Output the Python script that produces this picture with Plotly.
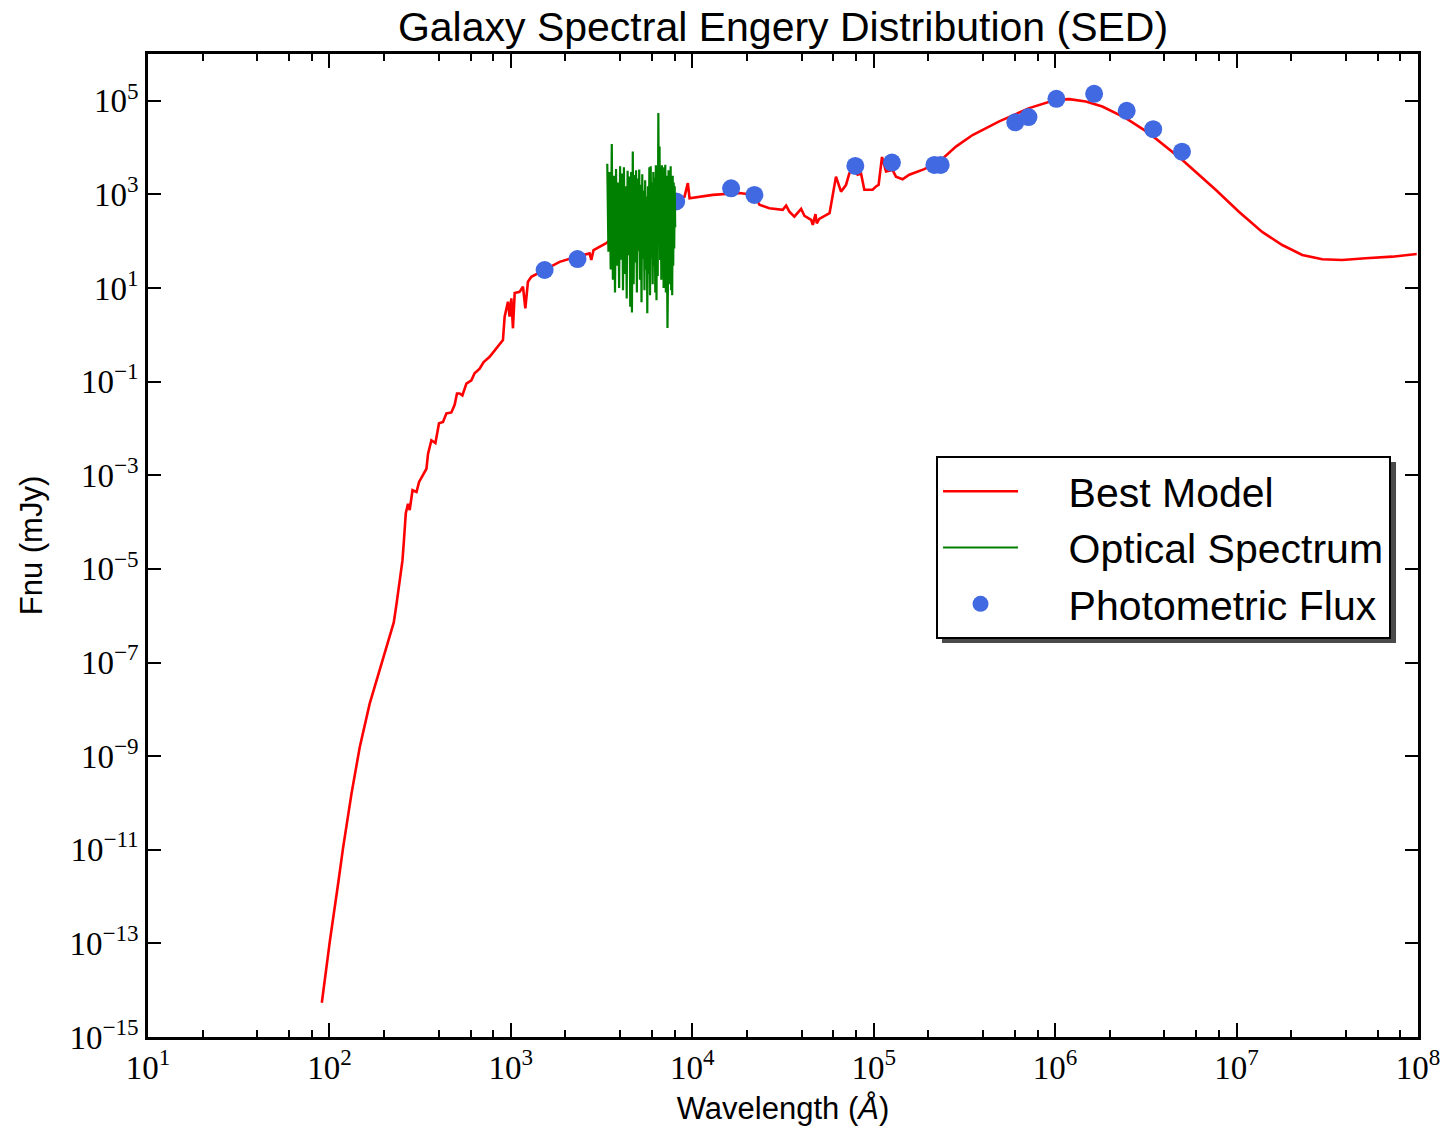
import plotly.graph_objects as go

# ---------------- data ----------------
model_wave = [90.8, 100.5, 111.7, 118.9, 132.4, 146.9, 166.7, 196.8, 226.3, 234.4,
              244.3, 252.6, 257.0, 263.6, 271.0, 277.0, 287.0, 302.0, 312.0, 342.6,
              349.6, 364.8, 383.8, 401.8, 422.7, 441.4, 470.0, 490.0, 504.7, 522.0,
              540.5, 568.8, 606.0, 631.0, 673.0, 708.0, 764.0, 814.0, 904.5, 924.0,
              964.0, 984.0, 1006.0, 1027.0, 1050.0, 1117.0, 1166.0, 1202.0, 1242.0, 1297.0,
              1535.0, 1857.0, 2296.0, 2716.0, 2776.0, 2856.0, 3357.0, 4000.0, 5000.0, 6000.0,
              7000.0, 8150.0, 9060.0, 9450.0, 9660.0, 12970.0, 18200.0, 22030.0, 23450.0, 26600.0,
              31500.0, 32900.0, 34300.0, 36550.0, 39800.0, 41550.0, 45200.0, 46150.0, 47750.0, 48550.0,
              50100.0, 57100.0, 61950.0, 66050.0, 70300.0, 73400.0, 76550.0, 81500.0, 85100.0, 88750.0,
              98600.0, 102900.0, 106400.0, 111100.0, 116900.0, 127100.0, 132600.0, 144200.0, 157000.0, 190000.0,
              229700.0, 283900.0, 350700.0, 492000.0, 719000.0, 1.009e6, 1.195e6, 1.476e6, 1.82e6, 2.45e6,
              3.29e6, 5.01e6, 7.67e6, 1.03e7, 1.384e7, 1.785e7, 2.30e7, 2.965e7, 3.82e7, 5.14e7,
              7.21e7, 9.84e7]
model_flux = [5.4e-15, 1.1e-13, 1.9e-12, 1.1e-11, 1.6e-10, 1.55e-9, 1.32e-8, 1.1e-7, 7.2e-7, 1.8e-6,
              5.6e-6, 1.5e-5, 3.7e-5, 1.55e-4, 2.45e-4, 1.8e-4, 4.8e-4, 4.4e-4, 7.2e-4, 1.38e-3,
              2.9e-3, 5.6e-3, 4.9e-3, 1.29e-2, 1.38e-2, 2.1e-2, 2.2e-2, 3.2e-2, 5.6e-2, 5.6e-2,
              5.1e-2, 9.1e-2, 0.107, 0.151, 0.19, 0.263, 0.339, 0.468, 0.776, 2.45,
              5.1, 2.45, 6.0, 1.38, 7.8, 8.3, 10.7, 3.7, 13.6, 17.4,
              24.3, 36.3, 46.8, 55.0, 40.0, 65.0, 91.0, 150.0, 300.0, 450.0,
              600.0, 759.0, 890.0, 1740.0, 830.0, 977.0, 1070.0, 977.0, 600.0, 507.0,
              468.0, 575.0, 427.0, 335.0, 490.0, 347.0, 285.0, 224.0, 380.0, 240.0,
              300.0, 398.0, 2400.0, 1150.0, 1580.0, 2820.0, 3630.0, 2630.0, 2820.0, 1260.0,
              1260.0, 1480.0, 1590.0, 6300.0, 3090.0, 3310.0, 2400.0, 2110.0, 2630.0, 3470.0,
              5010.0, 10500.0, 18600.0, 36300.0, 69800.0, 104700.0, 108700.0, 96600.0, 75500.0, 42700.0,
              20400.0, 5500.0, 1260.0, 427.0, 158.0, 83.0, 51.0, 41.1, 39.8, 43.2,
              46.8, 53.3]

spec_wave = [3400, 3450, 3500, 3550, 3600, 3650, 3700, 3750, 3800, 3850,
             3900, 3950, 4000, 4050, 4100, 4150, 4200, 4250, 4300, 4350,
             4400, 4450, 4500, 4550, 4600, 4650, 4700, 4750, 4800, 4850,
             4900, 4950, 5000, 5050, 5100, 5150, 5200, 5250, 5300, 5350,
             5400, 5450, 5500, 5550, 5600, 5650, 5700, 5750, 5800, 5850,
             5900, 5950, 6000, 6050, 6100, 6150, 6200, 6250, 6300, 6350,
             6400, 6450, 6500, 6550, 6600, 6650, 6700, 6750, 6800, 6850,
             6900, 6950, 7000, 7050, 7100, 7150, 7200, 7250, 7300, 7350,
             7400, 7450, 7500, 7550, 7600, 7650, 7700, 7750, 7800, 7850,
             7900, 7950, 8000, 8050]
spec_flux = [4500, 60, 3000, 25, 12000, 15, 2500, 8, 3500, 30,
             1800, 10, 4000, 40, 2800, 9, 3800, 20, 1500, 6,
             3200, 50, 2400, 4, 3000, 3.0, 8300, 12, 2600, 35,
             3300, 8, 2200, 60, 3400, 15, 1600, 5, 2700, 40,
             1200, 9, 2000, 25, 900, 2.9, 1500, 20, 3800, 7,
             4000, 45, 1800, 12, 3000, 30, 2300, 8, 4200, 5.5,
             2800, 18, 55000, 200, 10500, 40, 3000, 15, 4200, 60,
             2000, 10, 3800, 25, 4300, 8, 2500, 3, 1.4, 20,
             3300, 12, 2000, 45, 4000, 9, 1200, 7, 2500, 30,
             1800, 70, 1500, 200]

phot_wave = [1535, 2330, 4900, 8150, 16370, 22000, 79200, 126000, 216000, 234000,
             603000, 713000, 1.016e6, 1.64e6, 2.48e6, 3.47e6, 5.0e6]
phot_flux = [24.3, 41.7, 400, 708, 1350, 977, 4070, 4790, 4270, 4270,
             34800, 44900, 1.1e5, 1.41e5, 6.1e4, 2.48e4, 8.2e3]

x_exps = [1, 2, 3, 4, 5, 6, 7, 8]
y_exps = [-15, -13, -11, -9, -7, -5, -3, -1, 1, 3, 5]
minor_mult = [2, 4, 6, 8]

# ---------------- figure ----------------
def sup(e):
    s = str(e).replace("-", "\u2212")
    return "10<sup>" + s + "</sup>"

NB = "\u00a0" * 4
SANS = "Liberation Sans, Arial, sans-serif"
SERIF = "Liberation Serif, serif"

fig = go.Figure()
fig.add_trace(go.Scatter(x=model_wave, y=model_flux, mode="lines", name=NB + "Best Model",
                         line=dict(color="#ff0000", width=2.6), legendrank=1, legendgroup="a"))
fig.add_trace(go.Scatter(x=phot_wave, y=phot_flux, mode="markers", name=NB + "Photometric Flux",
                         marker=dict(color="#4169e1", size=18), legendrank=3, legendgroup="c"))
fig.add_trace(go.Scatter(x=spec_wave, y=spec_flux, mode="lines", name=NB + "Optical Spectrum",
                         line=dict(color="#008000", width=2.2), legendrank=2, legendgroup="b"))

minor_vals = [m * 10 ** e for e in x_exps[:-1] for m in minor_mult]

# legend drop shadow (paper coordinates)
fig.add_shape(type="rect", xref="paper", yref="paper",
              x0=0.6252, x1=0.9827, y0=0.4008, y1=0.5849,
              fillcolor="#4a4a4a", line=dict(width=0), layer="above")

fig.update_layout(
    width=1446, height=1127,
    margin=dict(l=148, r=28, t=54, b=90, autoexpand=False),
    paper_bgcolor="white", plot_bgcolor="white",
    title=dict(text="Galaxy Spectral Engery Distribution (SED)", x=0.5415, xanchor="center",
               y=0.976, yanchor="middle",
               font=dict(family=SANS, size=41, color="black")),
    xaxis=dict(type="log", range=[1, 8], showgrid=False, zeroline=False, automargin=False,
               showline=True, linecolor="black", linewidth=2.5, mirror="ticks",
               ticks="inside", ticklen=14, tickwidth=1.5, tickcolor="black",
               tickmode="array", tickvals=[10 ** e for e in x_exps],
               ticktext=[sup(e) for e in x_exps],
               tickfont=dict(family=SERIF, size=33, color="black"),
               minor=dict(tickmode="array", tickvals=minor_vals, ticks="inside", ticklen=7,
                          tickwidth=1.5, tickcolor="black", showgrid=False),
               title=dict(text="Wavelength (<i>Å</i>)", standoff=12,
                          font=dict(family=SANS, size=31, color="black"))),
    yaxis=dict(type="log", range=[-15, 6], showgrid=False, zeroline=False, automargin=False,
               showline=True, linecolor="black", linewidth=2.5, mirror="ticks",
               ticks="inside", ticklen=13, tickwidth=1.5, tickcolor="black",
               tickmode="array", tickvals=[10.0 ** e for e in y_exps],
               ticktext=[sup(e) for e in y_exps],
               tickfont=dict(family=SERIF, size=33, color="black"),
               title=dict(text="Fnu (mJy)", standoff=18,
                          font=dict(family=SANS, size=31, color="black"))),
    legend=dict(x=0.6205, y=0.591, xanchor="left", yanchor="top",
                bgcolor="white", bordercolor="black", borderwidth=2,
                font=dict(family=SANS, size=41, color="black"),
                itemwidth=75, tracegroupgap=0, traceorder="grouped"),
    showlegend=True,
)

fig.write_html("out.html")
